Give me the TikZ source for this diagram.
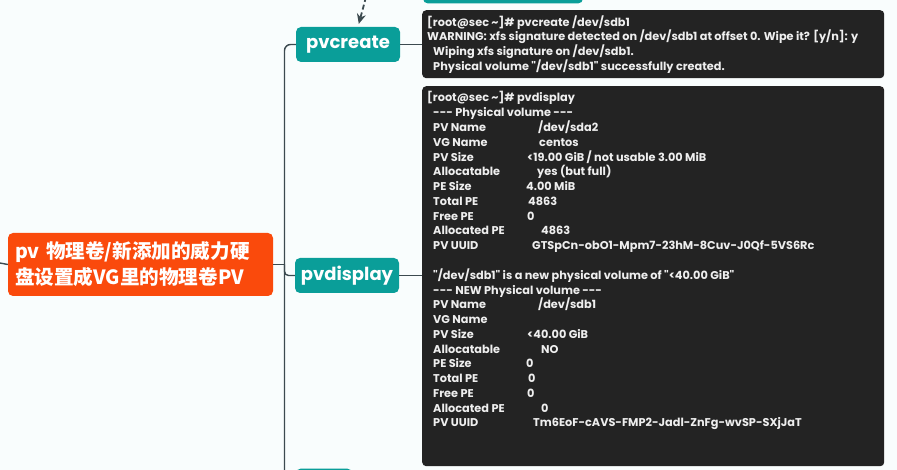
\documentclass[tikz,border=0pt]{standalone}
\usepackage{fontspec}
\setmainfont{Poppins}
\newfontfamily\termfont{Poppins}[Ligatures=TeXOff]
\newfontfamily\cjkfont{Noto Sans CJK SC}
\usetikzlibrary{arrows.meta}
\definecolor{bgc}{HTML}{F9FDFD}
\definecolor{termbg}{HTML}{232323}
\definecolor{termtxt}{HTML}{EEEEEE}
\definecolor{tealc}{HTML}{0A9E99}
\definecolor{orangec}{HTML}{FA4A0C}
\definecolor{linec}{HTML}{3C4A4F}
\newcommand\termrow[4]{\node[tl] (#1) at (#3,{102+(#2-1)*14.77}) {#4};}
\begin{document}
\begin{tikzpicture}[x=1pt,y=-1pt,
  conn/.style={draw=linec, line width=1.4pt},
  termbox/.style={fill=termbg, rounded corners=4pt, inner sep=0pt, anchor=north west},
  tealbox/.style={fill=tealc, rounded corners=5pt, text=white, inner sep=0pt,
     minimum height=35pt, font=\bfseries\fontsize{18}{20}\selectfont},
  rootbox/.style={fill=orangec, rounded corners=5pt, text=white, inner xsep=7pt, inner ysep=0pt,
     minimum height=63pt, align=left, text width=251pt,
     font=\cjkfont\bfseries\fontsize{19.6}{26}\selectfont},
  tl/.style={text=termtxt, inner sep=0pt, anchor=base west,
     font=\termfont\bfseries\fontsize{11.3}{13}\selectfont}]
\useasboundingbox (0,0) rectangle (897,470);
\clip (0,0) rectangle (897,470);
\fill[bgc] (0,0) rectangle (897,470);

% nodes
\node[rootbox] (root) at (140.5,264.5) {\raisebox{-2pt}{pv 物理卷/新添加的威力硬}\\\raisebox{-2pt}{盘设置成VG里的物理卷PV}};
\node[tealbox, minimum width=104pt] (pvcreate) at (348,44.5) {pvcreate};
\node[tealbox, minimum width=104pt] (pvdisplay) at (347,275.5) {pvdisplay};
\node[tealbox, minimum width=160pt] (topnode) at (503,-14) {};
\node[tealbox, minimum width=56pt] (botnode) at (324,486) {};
\node[termbox, minimum width=462pt, minimum height=68pt] (term1) at (422,10) {};
\node[termbox, minimum width=462pt, minimum height=380pt] (term2) at (422,86) {};

% coordinates
\coordinate (lstub) at (0,263);
\coordinate (trbot) at (284.5,480);
\coordinate (dstart) at (366,-3);

% connectors
\draw[conn] (lstub) -- (root.west);
\draw[conn] (root.east) -- (root.east -| trbot);
\draw[conn, rounded corners=6pt] (pvcreate.west) -| (trbot);
\draw[conn, rounded corners=4pt] (root.east -| trbot) |- (pvdisplay.west);
\draw[conn] (pvcreate.east) -- (pvcreate.east -| term1.west);
\draw[conn] (pvdisplay.east) -- (pvdisplay.east -| term2.west);
\draw[draw=linec, line width=1.8pt, dash pattern=on 5pt off 3pt, -{Stealth[length=10pt,width=9pt]}, shorten >=3pt]
  (dstart) -- ([xshift=10pt]pvcreate.north);

% terminal 1
\node[tl] (c1) at (427,26.4) {[root@sec \textasciitilde]\# pvcreate /dev/sdb1};
\node[tl] (c2) at (427,41) {WARNING: xfs signature detected on /dev/sdb1 at offset 0. Wipe it? [y/n]: y};
\node[tl] (c3) at (433,56) {Wiping xfs signature on /dev/sdb1.};
\node[tl] (c4) at (433,70.4) {Physical volume "/dev/sdb1" successfully created.};

% terminal 2
\termrow{d1}{1}{427}{[root@sec \textasciitilde]\# pvdisplay}
\termrow{d2}{2}{433}{--- Physical volume ---}
\termrow{d3}{3}{433}{PV Name}
\termrow{v3}{3}{538}{/dev/sda2}
\termrow{d4}{4}{433}{VG Name}
\termrow{v4}{4}{539}{centos}
\termrow{d5}{5}{433}{PV Size}
\termrow{v5}{5}{527}{<19.00 GiB / not usable 3.00 MiB}
\termrow{d6}{6}{433}{Allocatable}
\termrow{v6}{6}{537}{yes (but full)}
\termrow{d7}{7}{433}{PE Size}
\termrow{v7}{7}{526}{4.00 MiB}
\termrow{d8}{8}{433}{Total PE}
\termrow{v8}{8}{528}{4863}
\termrow{d9}{9}{433}{Free PE}
\termrow{v9}{9}{527}{0}
\termrow{d10}{10}{433}{Allocated PE}
\termrow{v10}{10}{541}{4863}
\termrow{d11}{11}{433}{PV UUID}
\termrow{v11}{11}{532}{GTSpCn-obO1-Mpm7-23hM-8Cuv-J0Qf-5VS6Rc}
\termrow{d13}{13}{433}{"/dev/sdb1" is a new physical volume of "<40.00 GiB"}
\termrow{d14}{14}{433}{--- NEW Physical volume ---}
\termrow{d15}{15}{433}{PV Name}
\termrow{v15}{15}{538}{/dev/sdb1}
\termrow{d16}{16}{433}{VG Name}
\termrow{d17}{17}{433}{PV Size}
\termrow{v17}{17}{527}{<40.00 GiB}
\termrow{d18}{18}{433}{Allocatable}
\termrow{v18}{18}{541}{NO}
\termrow{d19}{19}{433}{PE Size}
\termrow{v19}{19}{526}{0}
\termrow{d20}{20}{433}{Total PE}
\termrow{v20}{20}{528}{0}
\termrow{d21}{21}{433}{Free PE}
\termrow{v21}{21}{527}{0}
\termrow{d22}{22}{433}{Allocated PE}
\termrow{v22}{22}{541}{0}
\termrow{d23}{23}{433}{PV UUID}
\termrow{v23}{23}{533}{Tm6EoF-cAVS-FMP2-Jadl-ZnFg-wvSP-SXjJaT}
\end{tikzpicture}
\end{document}
